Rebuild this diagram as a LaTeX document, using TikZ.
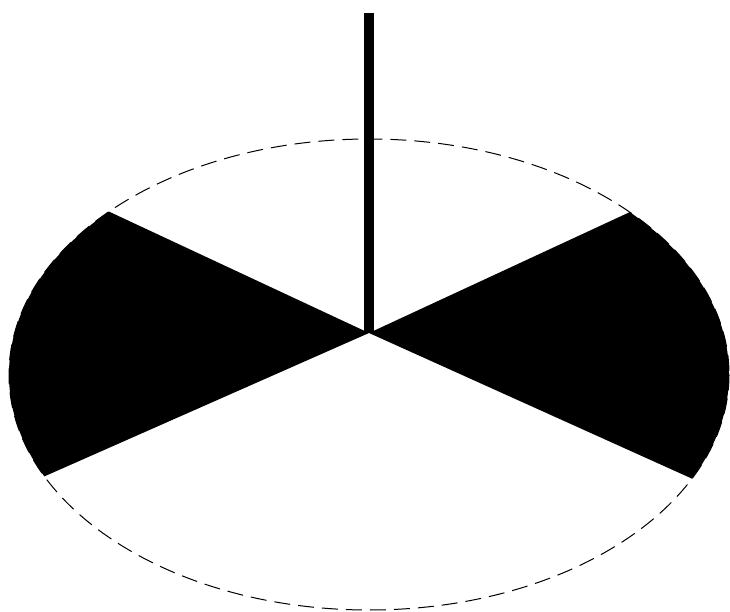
\documentclass[tikz,border=0pt]{standalone}
\begin{document}
\begin{tikzpicture}[x=1pt,y=-1pt,
  rim/.style={line width=1pt, dash pattern=on 16pt off 8pt},
  sector/.style={fill=black},
  pole/.style={line width=10pt}]
\useasboundingbox[fill=white] (0,0) rectangle (730,612);
\coordinate (C) at (369,374.5);
\coordinate (A) at (369,333);
\begin{scope}
  \clip (C) ellipse [x radius=360, y radius=235.5];
  \fill[sector] (A) -- (-145,93) -- (-400,333) -- (-283,621) -- cycle;
  \fill[sector] (A) -- (891,91) -- (1200,333) -- (1021,627) -- cycle;
\end{scope}
\draw[rim] (C) ellipse [x radius=360, y radius=235.5];
\coordinate (T) at (369,13);
\draw[pole] (T) -- (A);
\end{tikzpicture}
\end{document}
